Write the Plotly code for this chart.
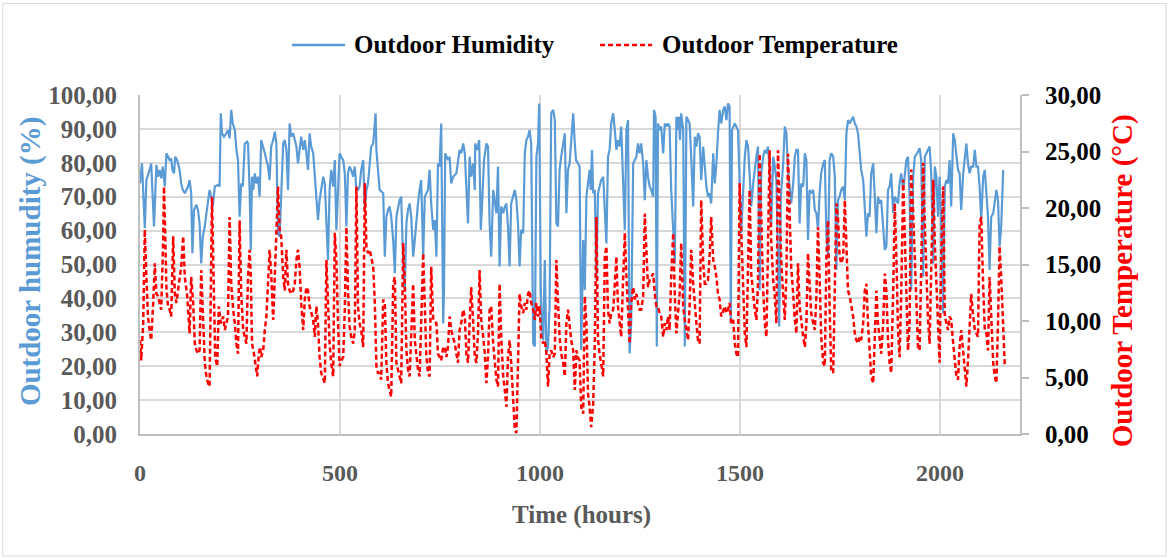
import plotly.graph_objects as go

# ---------------- data ----------------
humidity_hours = [
    0, 5, 12, 16, 24, 28, 35, 41, 45, 49, 53, 57, 62, 66, 70, 74, 78, 81, 85, 88,
    93, 99, 103, 107, 112, 116, 120, 124, 128, 131, 135, 141, 145, 149, 153, 157, 162, 166, 170, 174,
    180, 182, 187, 195, 199, 202, 205, 210, 216, 220, 224, 228, 232, 237, 241, 245, 249, 253, 257, 262,
    268,
    270, 274, 277, 280, 283, 287, 291, 295, 299, 303, 308, 312, 316, 320, 324, 328, 333, 337, 341, 345,
    349, 358, 362, 366, 370, 374, 378, 383, 387, 391, 395, 399, 403, 408, 412, 416, 420, 424, 428, 433,
    437, 441, 445, 449, 453, 458, 462, 466, 470, 474, 478, 483, 487, 491, 495, 499, 503, 508, 512, 516,
    520, 524, 528, 533, 537, 541,
    545, 549, 553, 558, 562, 566, 570, 574, 578, 583, 587, 589, 591, 595, 599, 608, 612, 616, 620, 624,
    628, 633, 637, 641, 645, 649, 653, 658, 662, 666, 670, 674, 678, 683, 687, 691, 695, 699, 703, 708,
    712, 720, 724, 728, 733, 737, 741, 745, 749, 753, 758, 760, 763, 770, 774, 778, 783, 791, 795, 799,
    803, 808, 812, 816,
    820, 824, 828, 833, 837, 838, 843, 848, 852, 855, 860, 866, 870, 874, 878, 883, 887, 891, 895, 899,
    903, 908, 912, 916, 920, 924, 928, 933, 937, 941, 945, 949, 953, 958, 962, 966, 970, 974, 978, 983,
    987, 991, 995, 998, 1002, 1005, 1008, 1012, 1016, 1020, 1024, 1028, 1033, 1037, 1041, 1045, 1049, 1053, 1058, 1062,
    1066, 1070, 1074, 1078, 1083, 1087, 1090,
    1095, 1099, 1103, 1108, 1112, 1116, 1120, 1124, 1127, 1130, 1133, 1137, 1141, 1145, 1149, 1153, 1158, 1162, 1166, 1170,
    1174, 1178, 1183, 1187, 1191, 1195, 1199, 1203, 1208, 1212, 1216, 1220, 1224, 1228, 1233, 1237, 1241, 1245, 1249, 1253,
    1258, 1262, 1266, 1270, 1274, 1278, 1283, 1285, 1289, 1292, 1295, 1299, 1303, 1308, 1312, 1316, 1320, 1324, 1328, 1333,
    1337, 1341, 1343, 1347, 1350, 1353, 1358, 1362, 1366,
    1370, 1374, 1378, 1383, 1387, 1391, 1395, 1399, 1403, 1408, 1412, 1416, 1420, 1424, 1428, 1433, 1437, 1441, 1445, 1449,
    1453, 1458, 1462, 1466, 1470, 1474, 1477, 1480, 1487, 1495, 1503, 1508, 1512, 1516, 1520, 1524, 1528, 1533, 1537, 1541,
    1545, 1549, 1553, 1558, 1562, 1566, 1570, 1574, 1578, 1583, 1587, 1591, 1595, 1598, 1602, 1608, 1612, 1616, 1620, 1624,
    1628, 1633, 1637, 1641,
    1645, 1649, 1653, 1658, 1662, 1666, 1670, 1674, 1678, 1683, 1687, 1691, 1695, 1699, 1703, 1708, 1712, 1716, 1720, 1724,
    1728, 1733, 1737, 1741, 1745, 1749, 1753, 1758, 1762, 1766, 1770, 1774, 1778, 1783, 1787, 1791, 1795, 1799, 1803, 1808,
    1812, 1816, 1820, 1824, 1828, 1833, 1837, 1841, 1845, 1849, 1853, 1858, 1862, 1866, 1870, 1874, 1878, 1883, 1887, 1891,
    1895, 1899, 1903, 1908, 1912, 1916,
    1920, 1924, 1928, 1933, 1937, 1943, 1949, 1953, 1958, 1962, 1966, 1970, 1974, 1978, 1983, 1987, 1991, 1995, 1999, 2003,
    2008, 2012, 2016, 2020, 2024, 2028, 2033, 2037, 2041, 2045, 2049, 2053, 2058, 2062, 2066, 2070, 2074, 2078, 2083, 2087,
    2091, 2095, 2099, 2103, 2108, 2112, 2116, 2120, 2124, 2128, 2133, 2137, 2141, 2145, 2149, 2153, 2158,
]
humidity_pct = [
    73.9, 79.8, 60.7, 74.9, 77.9, 79.8, 61.2, 79.4, 75.9, 77.9, 75.4, 78.9, 73.0, 82.8, 81.8, 80.8, 81.3, 77.9, 76.9, 81.8,
    80.8, 77.9, 73.9, 72.0, 71.0, 72.0, 73.0, 74.9, 71.0, 53.3, 66.1, 67.6, 66.1, 62.1, 50.3, 58.2, 61.2, 65.1, 69.0, 72.0,
    69.0, 67.1, 73.0, 73.5, 73.0, 94.6, 88.7, 87.7, 88.7, 89.7, 87.2, 95.6, 91.6, 89.7, 83.8, 80.8, 64.1, 73.9, 73.0, 85.7,
    86.2,
    85.7, 72.0, 54.3, 75.9, 72.0, 76.9, 73.9, 75.9, 70.0, 86.7, 84.8, 82.8, 80.8, 78.9, 74.9, 84.8, 86.7, 89.2, 85.7, 59.2,
    58.2, 85.7, 86.7, 83.8, 72.0, 91.6, 87.7, 88.7, 86.7, 84.8, 79.8, 84.8, 87.7, 83.8, 86.7, 82.8, 77.9, 88.7, 84.8, 82.8,
    76.9, 69.0, 63.1, 69.0, 72.0, 75.9, 73.9, 62.1, 51.3, 72.0, 77.9, 73.0, 80.8, 60.2, 72.0, 82.8, 81.8, 80.8, 76.9, 61.2,
    76.9, 78.9, 77.9, 75.9, 78.9, 72.0,
    72.0, 73.0, 77.9, 80.8, 66.1, 72.0, 73.9, 79.8, 84.8, 85.7, 93.6, 94.6, 83.8, 76.9, 72.0, 71.0, 52.3, 64.1, 66.1, 67.1,
    64.1, 57.2, 47.4, 64.1, 67.1, 69.0, 70.0, 50.3, 42.5, 62.1, 66.1, 68.0, 64.1, 52.3, 57.2, 64.1, 68.0, 72.0, 74.9, 52.3,
    70.0, 72.0, 77.9, 68.0, 60.2, 63.1, 52.3, 79.8, 78.9, 91.6, 32.6, 42.5, 82.8, 80.8, 81.8, 73.9, 75.9, 76.9, 80.8, 83.8,
    82.8, 85.7, 82.8, 73.0,
    62.1, 81.8, 75.9, 79.8, 72.0, 85.7, 83.8, 86.7, 60.2, 67.1, 80.8, 85.7, 84.8, 62.1, 52.3, 72.0, 68.0, 65.1, 78.9, 49.4,
    67.1, 65.1, 67.1, 68.0, 61.2, 49.4, 68.0, 70.0, 72.0, 69.0, 62.1, 49.4, 60.2, 59.2, 82.8, 86.7, 87.7, 89.7, 85.7, 26.7,
    25.8, 81.8, 85.7, 97.5, 42.5, 30.7, 27.7, 51.3, 23.8, 25.8, 37.6, 94.6, 95.6, 92.6, 62.1, 61.2, 77.9, 81.8, 85.7, 88.7,
    65.1, 77.9, 79.8, 86.7, 94.6, 85.7, 80.8,
    79.8, 78.9, 24.8, 57.2, 42.5, 70.0, 73.9, 77.9, 72.0, 83.8, 71.0, 72.0, 45.4, 71.0, 73.0, 74.9, 75.9, 64.1, 56.2, 81.8,
    83.8, 91.6, 94.6, 89.7, 83.8, 86.7, 84.8, 90.7, 72.0, 60.2, 89.7, 92.6, 23.8, 32.6, 79.8, 80.8, 81.8, 85.7, 82.8, 85.7,
    79.8, 69.0, 80.8, 75.9, 73.0, 72.0, 70.0, 95.6, 93.6, 25.8, 91.6, 89.7, 90.7, 82.8, 91.6, 90.7, 91.6, 90.7, 72.0, 60.2,
    50.3, 93.6, 89.7, 93.6, 86.7, 94.6, 89.7, 25.8, 93.6,
    92.6, 91.6, 81.8, 67.1, 87.7, 84.8, 88.7, 87.7, 74.9, 84.8, 78.9, 73.0, 70.0, 71.0, 68.0, 82.8, 73.9, 79.8, 88.7, 95.6,
    91.6, 95.6, 96.6, 92.6, 97.5, 96.6, 32.6, 89.7, 91.6, 89.7, 59.2, 74.9, 81.8, 86.7, 84.8, 76.9, 67.1, 73.9, 78.9, 81.8,
    84.8, 42.5, 76.9, 81.8, 83.8, 82.8, 84.8, 77.9, 62.1, 81.8, 78.9, 74.9, 52.3, 31.7, 70.0, 79.8, 90.7, 88.7, 77.9, 72.0,
    68.0, 73.9, 81.8, 83.8,
    83.8, 62.1, 73.9, 73.0, 82.8, 80.8, 57.2, 72.0, 71.0, 72.0, 66.1, 65.1, 60.2, 71.0, 76.9, 79.8, 80.8, 58.2, 52.3, 80.8,
    82.8, 81.8, 75.9, 48.4, 69.0, 70.0, 72.0, 73.0, 69.0, 88.7, 92.6, 91.6, 92.6, 93.6, 91.6, 90.7, 88.7, 82.8, 77.9, 74.9,
    67.1, 58.2, 65.1, 64.1, 76.9, 79.8, 70.0, 59.2, 70.0, 68.0, 69.0, 62.1, 54.3, 55.3, 72.0, 73.0, 76.9, 65.1, 70.0, 69.0,
    68.0, 73.9, 76.9, 72.0, 76.9, 80.8,
    81.8, 70.0, 42.5, 75.9, 81.8, 82.8, 84.3, 80.8, 46.4, 81.8, 82.8, 83.8, 84.8, 76.9, 50.3, 78.9, 75.9, 64.1, 75.9, 62.1,
    35.6, 73.0, 74.9, 73.9, 80.8, 67.1, 88.7, 86.7, 81.8, 77.9, 76.9, 66.1, 76.9, 81.8, 85.7, 79.8, 76.9, 78.9, 78.9, 83.8,
    78.9, 78.9, 73.0, 63.1, 75.9, 77.9, 69.0, 64.1, 48.4, 64.1, 65.1, 68.0, 72.0, 69.0, 55.3, 61.2, 77.9,
]

temperature_hours = [
    0, 3, 8, 12, 16, 20, 24, 28, 33, 37, 41, 45, 49, 53, 58, 60, 63, 66, 70, 74,
    78, 83, 87, 91, 95, 99, 103, 108, 112, 118, 124, 128, 133, 137, 141, 145, 149, 153, 158, 162,
    166, 170, 174, 177, 180, 184, 188, 193, 197, 202, 208, 212, 216, 220, 224, 228, 233, 237, 241, 245,
    249, 253, 258, 262, 266,
    270, 274, 277, 280, 285, 288, 293, 297, 300, 303, 308, 312, 316, 320, 324, 328, 333, 337, 341, 345,
    349, 353, 358, 362, 366, 370, 374, 378, 383, 387, 391, 395, 399, 403, 408, 412, 416, 420, 424, 428,
    433, 437, 441, 445, 449, 453, 458, 462, 466, 470, 474, 478, 483, 487, 491, 495, 499, 503, 508, 512,
    516, 520, 524, 528, 533, 537, 541,
    545, 549, 553, 558, 562, 566, 570, 574, 578, 583, 587, 591, 595, 599, 603, 608, 612, 616, 620, 624,
    628, 633, 637, 641, 645, 649, 653, 658, 662, 666, 670, 674, 678, 683, 687, 691, 695, 699, 703, 708,
    712, 716, 720, 724, 728, 733, 741, 745, 753, 758, 762, 766, 770, 774, 778, 783, 787, 791, 795, 799,
    803, 808, 812, 816,
    820, 824, 828, 833, 837, 841, 845, 849, 853, 858, 862, 866, 870, 874, 878, 883, 887, 891, 895, 899,
    903, 908, 912, 916, 920, 924, 928, 933, 937, 941, 945, 949, 953, 958, 962, 966, 970, 974, 978, 983,
    987, 991, 995, 999, 1003, 1008, 1012, 1016, 1020, 1024, 1028, 1033, 1037, 1041, 1045, 1049, 1053, 1058, 1062, 1066,
    1070, 1074, 1078, 1083, 1087, 1091,
    1095, 1099, 1103, 1108, 1112, 1116, 1120, 1124, 1128, 1133, 1137, 1141, 1145, 1149, 1153, 1158, 1162, 1166, 1170, 1174,
    1178, 1183, 1187, 1191, 1195, 1199, 1203, 1208, 1212, 1216, 1220, 1224, 1228, 1233, 1237, 1241, 1245, 1249, 1253, 1258,
    1262, 1266, 1270, 1274, 1278, 1283, 1287, 1291, 1295, 1299, 1303, 1308, 1312, 1316, 1320, 1324, 1328, 1333, 1337, 1341,
    1345, 1349, 1353, 1358, 1362, 1366,
    1370, 1374, 1378, 1383, 1387, 1391, 1395, 1399, 1403, 1408, 1412, 1416, 1420, 1424, 1428, 1433, 1437, 1441, 1445, 1449,
    1453, 1458, 1462, 1466, 1470, 1474, 1478, 1483, 1487, 1491, 1495, 1499, 1503, 1508, 1512, 1516, 1520, 1524, 1528, 1533,
    1537, 1541, 1545, 1549, 1553, 1558, 1562, 1566, 1570, 1574, 1578, 1583, 1587, 1591, 1595, 1599, 1603, 1608, 1612, 1616,
    1620, 1624, 1628, 1633, 1637, 1641,
    1645, 1649, 1653, 1658, 1662, 1666, 1670, 1674, 1678, 1683, 1687, 1691, 1695, 1699, 1703, 1708, 1712, 1716, 1720, 1724,
    1728, 1733, 1737, 1741, 1745, 1749, 1753, 1758, 1762, 1766, 1770, 1774, 1778, 1783, 1787, 1791, 1795, 1799, 1803, 1808,
    1812, 1816, 1820, 1824, 1828, 1833, 1837, 1841, 1845, 1849, 1853, 1858, 1862, 1866, 1870, 1874, 1878, 1883, 1887, 1891,
    1895, 1899, 1903, 1908, 1912, 1916,
    1920, 1924, 1928, 1933, 1937, 1941, 1945, 1949, 1953, 1958, 1962, 1966, 1970, 1974, 1978, 1983, 1987, 1991, 1995, 1999,
    2003, 2008, 2012, 2016, 2020, 2024, 2028, 2033, 2037, 2041, 2045, 2049, 2053, 2058, 2062, 2066, 2070, 2074, 2078, 2083,
    2087, 2091, 2095, 2099, 2103, 2108, 2112, 2116, 2120, 2124, 2128, 2133, 2137, 2141, 2145, 2149, 2153, 2158, 2162,
]
temperature_c = [
    8.3, 6.5, 9.8, 18.1, 13.9, 10.4, 9.2, 8.3, 11.6, 15.1, 12.4, 12.2, 11.6, 11.0, 17.2, 21.9, 17.8, 13.0, 11.3, 11.0,
    10.4, 17.5, 12.4, 11.6, 12.7, 13.9, 14.8, 17.5, 13.9, 12.2, 8.9, 13.9, 11.6, 8.0, 7.4, 7.1, 7.4, 14.5, 8.9, 6.3,
    5.1, 4.5, 4.2, 11.3, 21.0, 13.9, 6.8, 6.0, 11.3, 9.8, 10.4, 9.2, 9.8, 10.4, 19.2, 13.3, 11.0, 9.8, 8.0, 7.1,
    18.9, 12.4, 9.2, 8.6, 8.0,
    13.9, 16.3, 13.9, 8.0, 7.1, 6.3, 5.1, 7.1, 7.7, 6.8, 7.4, 9.2, 10.4, 13.3, 16.3, 14.2, 10.1, 13.9, 18.6, 21.9,
    18.1, 17.5, 13.9, 12.7, 16.3, 13.3, 12.7, 12.4, 12.7, 13.3, 15.4, 16.3, 14.8, 11.6, 9.2, 11.9, 13.0, 12.7, 11.3, 10.7,
    10.1, 8.6, 11.3, 9.8, 6.8, 5.4, 4.8, 4.5, 15.4, 11.3, 8.0, 6.3, 5.1, 17.8, 15.4, 9.8, 6.0, 6.5, 6.8, 11.0,
    18.3, 12.7, 9.5, 8.6, 8.0, 9.2, 21.9,
    11.3, 9.8, 9.2, 7.7, 22.2, 16.6, 16.0, 16.3, 15.7, 14.8, 11.6, 6.0, 5.4, 5.4, 4.8, 11.9, 11.6, 6.3, 4.5, 3.9,
    3.3, 13.3, 13.9, 6.3, 5.7, 5.1, 4.5, 16.9, 13.3, 7.4, 5.7, 5.1, 9.2, 13.3, 8.3, 6.8, 5.7, 5.1, 9.8, 16.0,
    11.3, 6.8, 5.4, 5.1, 14.8, 10.1, 9.8, 7.1, 6.5, 7.7, 7.7, 6.8, 7.7, 10.4, 9.2, 8.6, 8.0, 7.1, 6.3, 9.2,
    9.8, 11.0, 10.4, 7.1,
    6.3, 9.8, 13.0, 9.8, 6.8, 6.3, 8.9, 14.5, 10.1, 8.6, 7.1, 4.5, 6.8, 11.0, 11.3, 8.0, 6.3, 4.8, 4.2, 13.3,
    8.6, 5.1, 3.9, 2.4, 6.8, 8.3, 6.3, 2.4, 0.4, 0.1, 6.8, 12.4, 11.3, 10.7, 11.6, 11.0, 12.4, 12.7, 11.6, 11.0,
    10.1, 11.6, 10.4, 11.3, 8.6, 8.0, 8.3, 7.1, 4.2, 7.1, 7.4, 6.8, 7.1, 15.4, 11.6, 8.6, 7.1, 6.3, 5.1, 9.8,
    11.0, 9.8, 8.3, 7.4, 3.9, 7.4,
    6.8, 6.5, 2.4, 1.8, 12.2, 9.8, 3.6, 2.4, 0.6, 2.7, 8.0, 19.2, 8.3, 7.1, 6.3, 5.1, 15.7, 16.6, 11.0, 9.8,
    10.7, 11.0, 13.3, 15.7, 11.3, 9.8, 8.6, 13.9, 17.8, 13.9, 10.4, 8.0, 11.6, 13.0, 11.9, 12.4, 11.6, 11.0, 11.0, 12.2,
    19.5, 15.7, 13.0, 13.6, 13.9, 14.2, 12.4, 11.3, 11.3, 10.7, 10.4, 8.6, 9.8, 9.2, 10.4, 9.2, 13.9, 17.8, 12.2, 8.9,
    10.7, 12.4, 16.9, 11.3, 10.1, 9.2,
    8.3, 11.3, 16.3, 13.3, 11.3, 9.8, 8.3, 8.0, 20.7, 15.1, 13.3, 13.3, 13.6, 15.7, 19.2, 15.4, 14.8, 13.9, 12.4, 11.9,
    10.4, 11.0, 11.3, 10.7, 11.0, 11.6, 9.8, 10.1, 8.0, 7.1, 6.8, 22.2, 18.1, 12.7, 8.9, 7.7, 15.4, 21.6, 14.2, 12.2,
    11.0, 10.1, 13.3, 24.8, 19.2, 12.7, 9.8, 8.6, 16.6, 25.1, 17.2, 13.6, 12.2, 9.8, 25.1, 19.5, 15.4, 12.2, 10.1, 14.2,
    24.8, 19.5, 14.8, 12.4, 10.1, 8.9,
    15.1, 11.3, 9.8, 8.6, 7.7, 9.8, 16.0, 12.7, 10.7, 9.8, 9.2, 12.2, 18.3, 13.9, 8.6, 6.3, 6.0, 15.7, 18.9, 11.3,
    5.7, 5.4, 12.7, 20.4, 19.2, 15.7, 15.1, 15.7, 20.7, 16.9, 12.7, 12.2, 11.3, 10.4, 8.9, 8.3, 8.0, 8.6, 8.3, 9.8,
    12.7, 13.3, 9.8, 6.8, 5.1, 4.5, 9.8, 12.7, 9.8, 8.6, 7.1, 9.8, 14.2, 12.7, 8.3, 6.3, 5.4, 12.7, 20.4, 15.7,
    9.2, 6.8, 12.2, 22.5, 16.6, 11.3,
    7.4, 9.8, 23.4, 19.5, 15.7, 11.3, 7.7, 7.4, 16.6, 24.0, 18.6, 13.9, 10.1, 8.0, 15.4, 22.5, 16.9, 13.0, 9.8, 6.3,
    15.7, 21.9, 10.4, 9.8, 9.2, 10.4, 10.1, 8.0, 6.3, 5.1, 4.8, 7.7, 9.2, 7.1, 5.4, 4.2, 6.5, 9.5, 12.4, 10.4,
    9.2, 8.9, 8.6, 18.6, 19.2, 13.0, 9.2, 8.9, 7.4, 13.9, 9.8, 6.3, 5.1, 4.5, 9.8, 16.6, 13.9, 9.2, 6.0,
]

x_ticks = [0, 500, 1000, 1500, 2000]
series_names = ["Outdoor Humidity", "Outdoor Temperature"]
y_title = "Outdoor humudity (%)"
y2_title = "Outdoor Temperature (°C)"
x_title = "Time (hours)"

# ---------------- styles ----------------
FONT = "Liberation Serif, Times New Roman, serif"
BLUE = "#5B9BD5"
RED = "#FF0000"
GRID = "#D9D9D9"
AXIS = "#BFBFBF"
GRAY_TXT = "#595959"
RED_DASH = "5px,3px"

fig = go.Figure()
fig.add_trace(go.Scatter(
    x=humidity_hours, y=humidity_pct, name=series_names[0], mode="lines",
    line=dict(color=BLUE, width=2.2), yaxis="y", showlegend=False))
fig.add_trace(go.Scatter(
    x=temperature_hours, y=temperature_c, name=series_names[1], mode="lines",
    line=dict(color=RED, width=2.5, dash=RED_DASH), yaxis="y2", showlegend=False))

# legend drawn in paper coordinates (sample lines + labels)
LEG_Y = 1.1475
legend_shapes = [
    dict(type="line", xref="paper", yref="paper", x0=0.1727, x1=0.2330, y0=LEG_Y, y1=LEG_Y,
         line=dict(color=BLUE, width=2.5)),
    dict(type="line", xref="paper", yref="paper", x0=0.5227, x1=0.5818, y0=LEG_Y, y1=LEG_Y,
         line=dict(color=RED, width=2.5, dash=RED_DASH)),
]
legend_labels = [
    dict(text=series_names[0], xref="paper", yref="paper", x=0.2409, y=LEG_Y, showarrow=False,
         xanchor="left", yanchor="middle",
         font=dict(family=FONT, size=25, color="black", weight="bold")),
    dict(text=series_names[1], xref="paper", yref="paper", x=0.5909, y=LEG_Y, showarrow=False,
         xanchor="left", yanchor="middle",
         font=dict(family=FONT, size=25, color="black", weight="bold")),
]

fig.update_layout(
    width=1169, height=558,
    margin=dict(l=140, r=149, t=95, b=124),
    paper_bgcolor="white", plot_bgcolor="white",
    separators=", ",
    font=dict(family=FONT, size=24, color="black", weight="bold"),
    showlegend=False,
    xaxis=dict(range=[0, 2200], tickvals=x_ticks, showgrid=True, gridcolor=GRID, gridwidth=2,
               zeroline=False, showline=True, linecolor=AXIS, linewidth=2, ticks="",
               tickfont=dict(family=FONT, size=24, color=GRAY_TXT, weight="bold"),
               ticklabelstandoff=16),
    yaxis=dict(range=[0, 100], dtick=10, tickformat=".2f", showgrid=True, gridcolor=GRID, gridwidth=2,
               zeroline=False, showline=True, linecolor=AXIS, linewidth=2, ticks="",
               tickfont=dict(family=FONT, size=25, color=GRAY_TXT, weight="bold"),
               ticklabelstandoff=16),
    yaxis2=dict(range=[0, 30], dtick=5, tickformat=".2f", overlaying="y", side="right",
                showgrid=False, zeroline=False, showline=True, linecolor=AXIS, linewidth=2,
                ticks="outside", ticklen=7, tickcolor=AXIS, tickwidth=2,
                tickfont=dict(family=FONT, size=25, color="black", weight="bold"),
                ticklabelstandoff=11),
    annotations=[
        dict(text=y_title, xref="paper", yref="paper", x=-0.125, y=0.51, showarrow=False,
             textangle=-90, xanchor="center", yanchor="middle",
             font=dict(family=FONT, size=29, color=BLUE, weight="bold")),
        dict(text=y2_title, xref="paper", yref="paper", x=1.116, y=0.451, showarrow=False,
             textangle=-90, xanchor="center", yanchor="middle",
             font=dict(family=FONT, size=29, color=RED, weight="bold")),
        dict(text=x_title, xref="paper", yref="paper", x=0.502, y=-0.239, showarrow=False,
             xanchor="center", yanchor="middle",
             font=dict(family=FONT, size=25, color=GRAY_TXT, weight="bold")),
    ] + legend_labels,
    shapes=[dict(type="rect", xref="paper", yref="paper", x0=-0.156, x1=1.166, y0=-0.36, y1=1.27,
                 line=dict(color=GRID, width=1), layer="below")] + legend_shapes,
)

fig.write_html("out.html")
